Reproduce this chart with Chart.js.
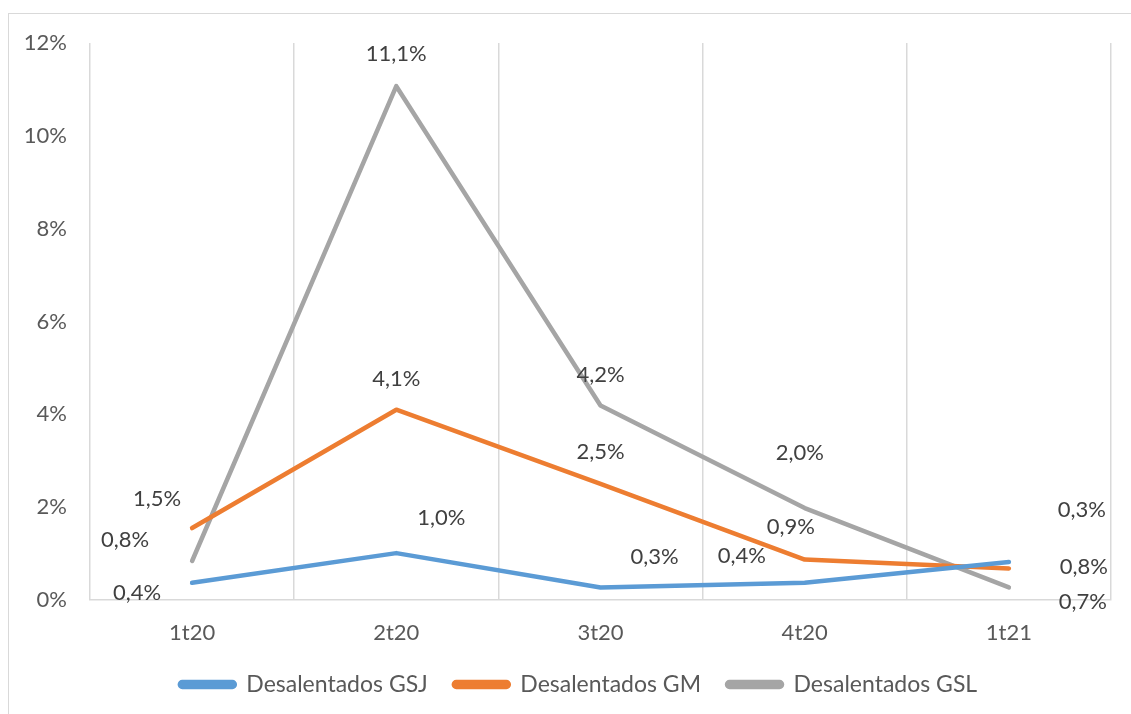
<!DOCTYPE html>
<html>
<head>
<meta charset="utf-8">
<script src="https://cdn.jsdelivr.net/npm/chart.js@4.4.1/dist/chart.umd.min.js"></script>
<style>
    html, body { margin: 0; padding: 0; background: #ffffff; overflow: hidden; }
    #wrap { position: relative; width: 1131px; height: 714px; }
    #frame {
        position: absolute; left: 8px; top: 13px; width: 1200px; height: 800px;
        border-left: 1.5px solid #d9d9d9; border-top: 1.5px solid #d9d9d9;
    }
    #chart { position: absolute; left: 0; top: 0; }
</style>
</head>
<body>
<div id="wrap">
    <div id="frame"></div>
    <canvas id="chart" width="1131" height="714"></canvas>
</div>
<script>
const quarters = ["1t20", "2t20", "3t20", "4t20", "1t21"];

const gsj = [0.37, 1.01, 0.27, 0.37, 0.82];
const gm = [1.55, 4.10, 2.50, 0.87, 0.68];
const gsl = [0.84, 11.07, 4.19, 1.98, 0.27];

// labels as printed in the source
const gsjLabels = ["0,4%", "1,0%", "0,3%", "0,4%", "0,8%"];
const gmLabels = ["1,5%", "4,1%", "2,5%", "0,9%", "0,7%"];
const gslLabels = ["0,8%", "11,1%", "4,2%", "2,0%", "0,3%"];

const yTicks = [0, 2, 4, 6, 8, 10, 12];

// where each data label sits relative to its point (px)
const labelOffsets = [
    [[-55, 10], [45, -35], [54, -31], [-63, -27], [75, 5]],
    [[-35, -29], [0, -31], [0, -32], [-14, -33], [74, 33]],
    [[-67, -21], [0, -32], [0, -31], [-5, -55], [73, -78]]
];

const FONT = "Lato, 'Open Sans', sans-serif";

const dataLabels = {
    id: "dataLabels",
    afterDatasetsDraw(chart) {
        const ctx = chart.ctx;
        const allLabels = [gsjLabels, gmLabels, gslLabels];
        ctx.save();
        ctx.font = "22px " + FONT;
        ctx.fillStyle = "#404040";
        ctx.textAlign = "center";
        ctx.textBaseline = "middle";
        chart.data.datasets.forEach((ds, i) => {
            chart.getDatasetMeta(i).data.forEach((pt, j) => {
                const off = labelOffsets[i][j];
                ctx.fillText(allLabels[i][j], pt.x + off[0], pt.y + off[1]);
            });
        });
        ctx.restore();
    }
};

// legend in the source sits a bit right of centre
const legendShift = {
    id: "legendShift",
    afterLayout(chart) {
        chart.legend.left += 18;
        chart.legend.right += 18;
    }
};

function makeSet(label, values, color) {
    return {
        label: label,
        data: values,
        borderColor: color,
        backgroundColor: color,
        borderWidth: 4.5,
        borderCapStyle: "round",
        borderJoinStyle: "round",
        pointRadius: 0,
        tension: 0
    };
}

new Chart(document.getElementById("chart"), {
    type: "line",
    data: {
        labels: quarters,
        datasets: [
            makeSet("Desalentados GSJ", gsj, "#5b9bd5"),
            makeSet("Desalentados GM", gm, "#ed7d31"),
            makeSet("Desalentados GSL", gsl, "#a5a5a5")
        ]
    },
    options: {
        responsive: false,
        animation: false,
        layout: { padding: { left: 10, right: 20, top: 43, bottom: 8 } },
        scales: {
            x: {
                offset: true,
                grid: { display: true, offset: true, color: "#d9d9d9", lineWidth: 1.5, drawTicks: false },
                border: { display: true, color: "#d9d9d9", width: 1.5 },
                ticks: { color: "#595959", font: { family: FONT, size: 22 }, padding: 20 },
                afterFit: s => { s.height = 47; }
            },
            y: {
                min: 0,
                max: 12,
                afterBuildTicks: s => { s.ticks = yTicks.map(v => ({ value: v })); },
                grid: { display: false, drawTicks: false },
                border: { display: false },
                ticks: {
                    color: "#595959",
                    font: { family: FONT, size: 22 },
                    padding: 23,
                    callback: v => v + "%"
                },
                afterFit: s => { s.width = 80; }
            }
        },
        plugins: {
            legend: {
                position: "bottom",
                labels: {
                    color: "#595959",
                    font: { family: FONT, size: 23 },
                    boxWidth: 55,
                    boxHeight: 5,
                    useBorderRadius: true,
                    borderRadius: 2.5,
                    padding: 26
                }
            },
            tooltip: { enabled: false }
        }
    },
    plugins: [dataLabels, legendShift]
});
</script>
</body>
</html>
